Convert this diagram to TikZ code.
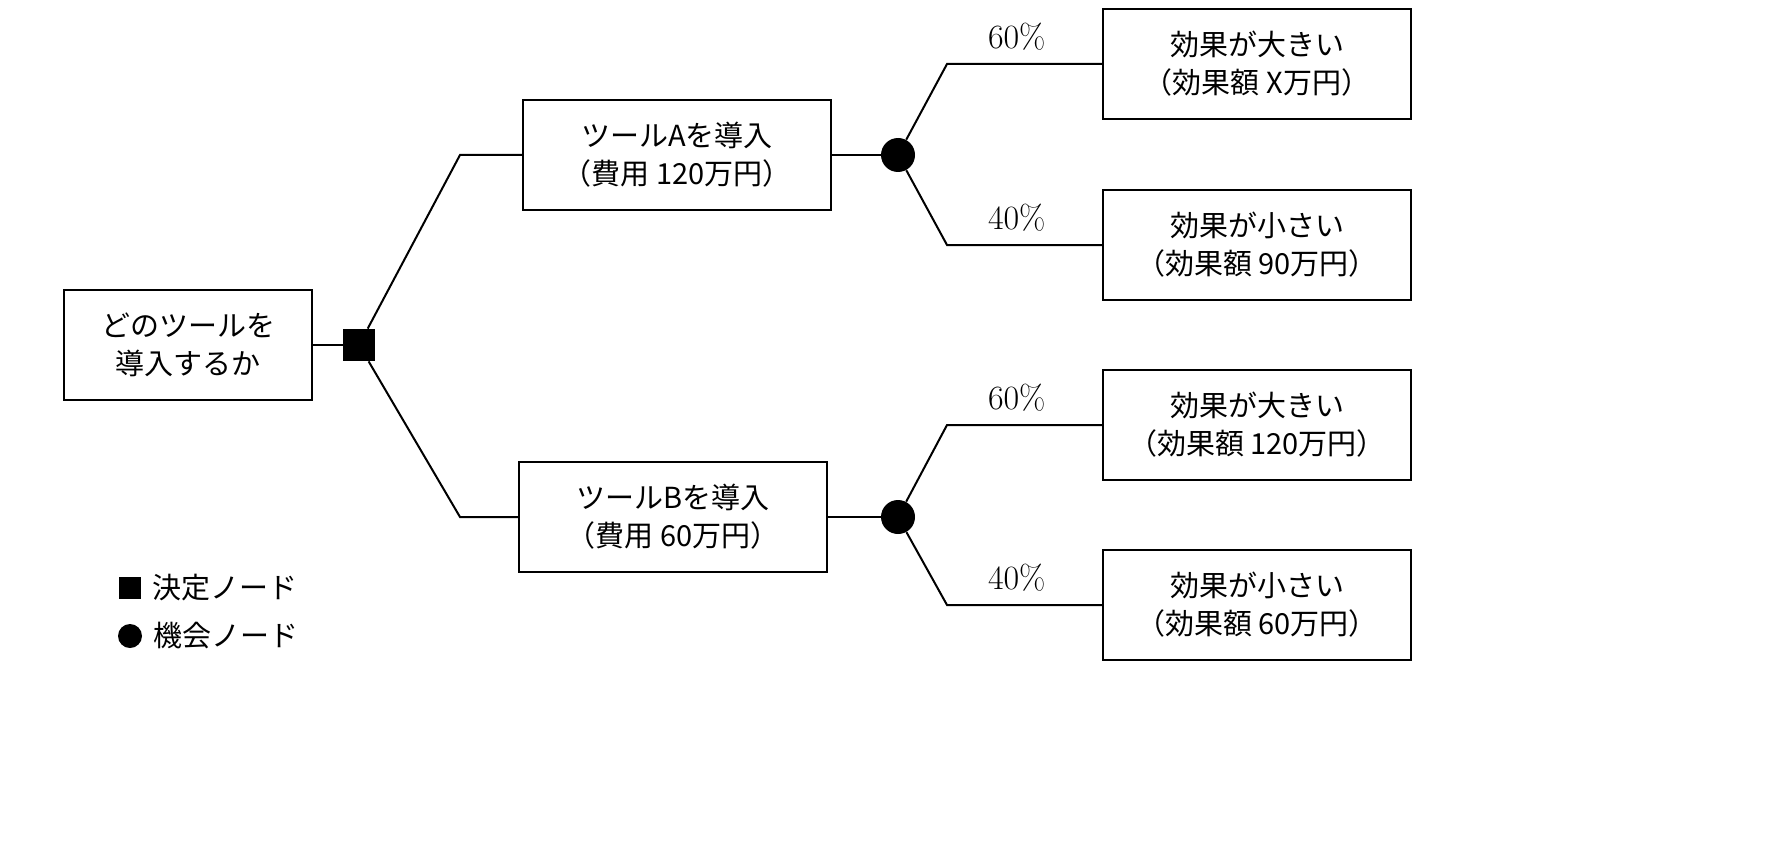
\documentclass[tikz,border=0pt]{standalone}
\usepackage{fontspec}
\newfontfamily\cjk{Noto Sans CJK JP}
\usetikzlibrary{positioning}
\newcommand*{\xKnee}{460}
\newcommand*{\xFork}{947}
\newcommand*{\boxW}{154pt}
\newcommand*{\boxH}{55pt}
\tikzset{
    box/.style={rectangle, draw, line width=1pt, minimum width=\boxW, minimum height=\boxH, align=center, font=\cjk\fontsize{14.5}{19}\selectfont},
    decision/.style={rectangle, fill=black, minimum size=16pt, inner sep=0pt},
    chance/.style={circle, fill=black, minimum size=17pt, inner sep=0pt},
    branch/.style={line width=1pt},
    prob/.style={font=\fontsize{17}{20}\selectfont},
}
\begin{document}
\begin{tikzpicture}[x=0.5pt, y=-0.5pt]
    \useasboundingbox (0,0) rectangle (1780,850);

    % root and decision
    \node [box, minimum width=124pt] (root) at (188,345) {どのツールを\\導入するか};
    \node [decision] (dec) at (359,345) {};
    \draw [branch] (root.east) -- (dec.west);

    % tools
    \node [box] (toolA) at (677,155) {ツールAを導入\\（費用 120万円）};
    \node [box] (toolB) at (673,517) {ツールBを導入\\（費用 60万円）};
    \coordinate (kA) at (\xKnee,155);
    \coordinate (kB) at (\xKnee,517);
    \draw [branch] (dec) -- (kA) -- (toolA.west);
    \draw [branch] (dec) -- (kB) -- (toolB.west);

    % chance nodes
    \node [chance] (cA) at (898,155) {};
    \node [chance] (cB) at (898,517) {};
    \draw [branch] (toolA.east) -- (cA);
    \draw [branch] (toolB.east) -- (cB);

    % outcomes
    \node [box] (oA1) at (1257,64)  {効果が大きい\\（効果額 X万円）};
    \node [box] (oA2) at (1257,245) {効果が小さい\\（効果額 90万円）};
    \node [box] (oB1) at (1257,425) {効果が大きい\\（効果額 120万円）};
    \node [box] (oB2) at (1257,605) {効果が小さい\\（効果額 60万円）};

    \foreach \c/\o/\p in {cA/oA1/60, cA/oA2/40, cB/oB1/60, cB/oB2/40} {
        \coordinate (f\o) at (\xFork,0 |- \o.west);
        \draw [branch] (\c) -- (f\o) -- (\o.west) node [prob, pos=0.45, above=3pt] {\p\%};
    }

    % legend
    \node [decision, minimum size=11pt] (legD) at (130,588) {};
    \node [chance, minimum size=12pt] (legC) at (130,636) {};
    \node [right=2pt of legD, font=\cjk\fontsize{14.5}{18}\selectfont] (legDt) {決定ノード};
    \node [right=2pt of legC, font=\cjk\fontsize{14.5}{18}\selectfont] (legCt) {機会ノード};
\end{tikzpicture}
\end{document}
